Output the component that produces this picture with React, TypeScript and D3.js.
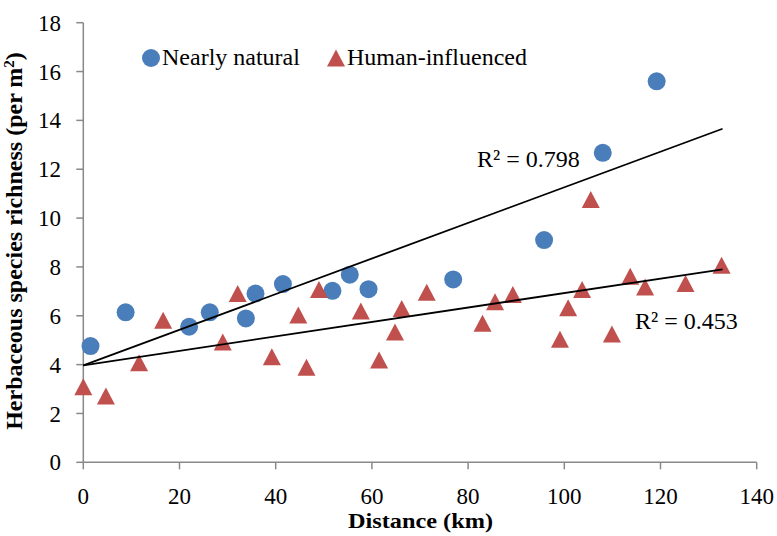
import React from "react";
import * as d3 from "d3";

const naturalX = [1.5, 8.8, 22.0, 26.3, 33.8, 35.8, 41.5, 51.8, 55.4, 59.3, 76.9, 95.8, 108.0, 119.2];
const naturalY = [4.76, 6.14, 5.55, 6.14, 5.89, 6.91, 7.30, 7.02, 7.68, 7.09, 7.49, 9.10, 12.67, 15.60];

const humanX = [0, 4.7, 11.6, 16.6, 29.0, 32.1, 39.2, 44.7, 46.4, 49.0, 57.7, 61.5, 64.8, 66.2, 71.4, 83.0, 85.6, 89.3, 99.1, 100.8, 103.7, 105.5, 109.9, 113.7, 116.8, 125.2, 132.7];
const humanY = [3.09, 2.71, 4.08, 5.82, 4.93, 6.91, 4.32, 6.03, 3.89, 7.08, 6.20, 4.19, 5.34, 6.30, 6.96, 5.69, 6.57, 6.87, 5.04, 6.33, 7.08, 10.76, 5.25, 7.62, 7.18, 7.32, 8.07];

const seriesNames = ["Nearly natural", "Human-influenced"];
const trendIntercepts = [3.97, 3.97];
const trendSlopes = [0.0729, 0.0296];
const trendRange = [0, 132.9];
const r2Labels = ["R² = 0.798", "R² = 0.453"];

const xTicks = [0, 20, 40, 60, 80, 100, 120, 140];
const yTicks = [0, 2, 4, 6, 8, 10, 12, 14, 16, 18];

const W = 777;
const H = 536;
const BLUE = "#4A7EBB";
const RED = "#C0504D";
const AXIS = "#898989";
const FONT = "'Liberation Serif', 'Times New Roman', serif";

export default function App() {
  const x = d3.scaleLinear().domain([0, 140]).range([83.3, 756.7]);
  const y = d3.scaleLinear().domain([0, 18]).range([462.3, 22.7]);

  // triangle marker: width 18, height 17, centered on bbox center
  const triPath = (cx: number, cy: number) =>
    `M${cx},${cy - 8.5}L${cx + 9},${cy + 8.5}L${cx - 9},${cy + 8.5}Z`;

  const natural = naturalX.map((v, i) => ({ x: v, y: naturalY[i] }));
  const human = humanX.map((v, i) => ({ x: v, y: humanY[i] }));

  const trendLines = trendSlopes.map((s, i) =>
    d3
      .line<number>()
      .x((d) => x(d))
      .y((d) => y(trendIntercepts[i] + s * d))(trendRange)
  );

  return (
    <svg
      width={W}
      height={H}
      style={{ position: "absolute", left: 0, top: 0, background: "#fff" }}
      fontFamily={FONT}
    >
      <rect width={W} height={H} fill="#fff" />
      {/* axes */}
      <line x1={x(0)} x2={x(0)} y1={y(18)} y2={y(0)} stroke={AXIS} strokeWidth={1.5} />
      <line x1={x(0)} x2={x(140)} y1={y(0)} y2={y(0)} stroke={AXIS} strokeWidth={1.5} />
      {yTicks.map((t) => (
        <g key={"y" + t}>
          <line x1={x(0) - 7} x2={x(0)} y1={y(t)} y2={y(t)} stroke={AXIS} strokeWidth={1.5} />
          <text x={61} y={y(t)} dy="0.35em" textAnchor="end" fontSize={23} fill="#000">
            {t}
          </text>
        </g>
      ))}
      {xTicks.map((t) => (
        <g key={"x" + t}>
          <line x1={x(t)} x2={x(t)} y1={y(0)} y2={y(0) + 7} stroke={AXIS} strokeWidth={1.5} />
          <text x={x(t)} y={504} textAnchor="middle" fontSize={23} fill="#000">
            {t}
          </text>
        </g>
      ))}

      {/* axis titles */}
      <text
        x={348}
        y={528}
        fontSize={22}
        fontWeight="bold"
        fill="#000"
        textLength={145}
        lengthAdjust="spacingAndGlyphs"
      >
        Distance (km)
      </text>
      <text
        transform={`translate(22,241) rotate(-90)`}
        textAnchor="middle"
        fontSize={24}
        fontWeight="bold"
        fill="#000"
      >
        Herbaceous species richness (per m
        <tspan baselineShift="super" fontSize={15}>
          2
        </tspan>
        )
      </text>

      {/* points */}
      {natural.map((d, i) => (
        <circle key={"n" + i} cx={x(d.x)} cy={y(d.y)} r={9} fill={BLUE} />
      ))}
      {human.map((d, i) => (
        <path key={"h" + i} d={triPath(x(d.x), y(d.y))} fill={RED} />
      ))}

      {/* trend lines */}
      {trendLines.map((p, i) => (
        <path key={"t" + i} d={p || ""} fill="none" stroke="#000" strokeWidth={1.8} />
      ))}

      {/* R2 labels */}
      <text x={477} y={167} fontSize={24} fill="#000">
        {r2Labels[0]}
      </text>
      <text x={635} y={329} fontSize={24} fill="#000">
        {r2Labels[1]}
      </text>

      {/* legend */}
      <circle cx={151} cy={58} r={9} fill={BLUE} />
      <text x={162} y={65} fontSize={24} fill="#000">
        {seriesNames[0]}
      </text>
      <path d={triPath(336, 58)} fill={RED} />
      <text x={347} y={65} fontSize={24} fill="#000">
        {seriesNames[1]}
      </text>
    </svg>
  );
}
